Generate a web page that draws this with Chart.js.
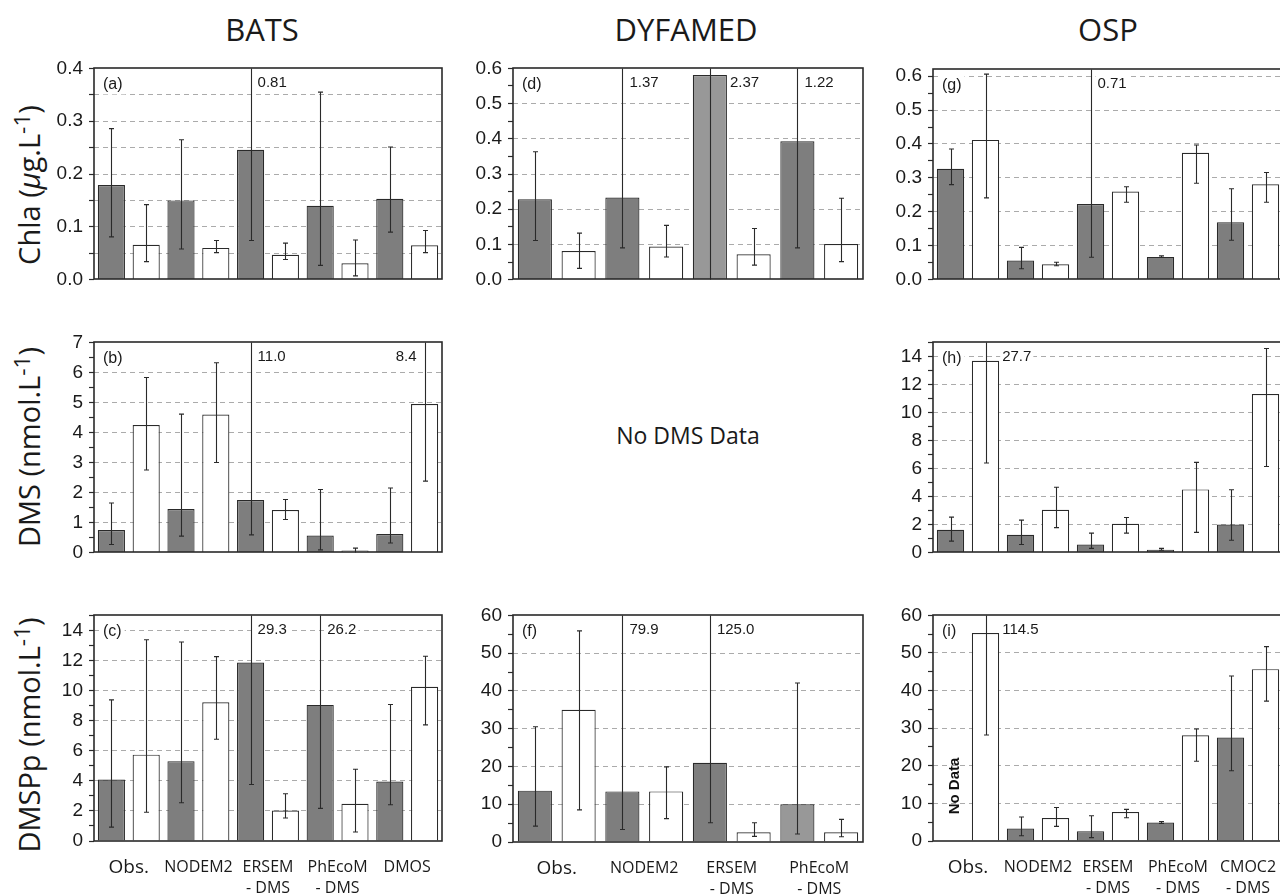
<!DOCTYPE html>
<html>
<head>
<meta charset="utf-8">
<script src="https://cdn.jsdelivr.net/npm/chart.js@4.4.0/dist/chart.umd.min.js"></script>
<style>
    html, body { margin: 0; padding: 0; background: #fff; }
    body { width: 1280px; height: 894px; overflow: hidden; position: relative; font-family: "Open Sans", sans-serif; color: #1a1a1a; }
    .panel { position: absolute; }
    .col-title { position: absolute; top: 8px; font-size: 31px; line-height: 42px; white-space: nowrap; transform: translateX(-50%); }
    .y-title { position: absolute; font-size: 29px; line-height: 34px; white-space: nowrap; transform: translate(-50%, -50%) rotate(-90deg); }
    .y-title sup { font-size: 78%; vertical-align: 0.45em; line-height: 0; }
    .no-dms { position: absolute; left: 688px; top: 435px; font-size: 23px; white-space: nowrap; transform: translate(-50%, -50%); }
</style>
</head>
<body>
<div class="col-title" style="left:262px">BATS</div>
<div class="col-title" style="left:686px">DYFAMED</div>
<div class="col-title" style="left:1108px">OSP</div>
<div class="y-title" style="left:29px; top:185px">Chla (<i>&mu;</i>g.L<sup>-1</sup>)</div>
<div class="y-title" style="left:29px; top:447px">DMS (nmol.L<sup>-1</sup>)</div>
<div class="y-title" style="left:29px; top:735px">DMSPp (nmol.L<sup>-1</sup>)</div>
<div class="no-dms">No DMS Data</div>

<script>
// categories (x axis)
const groupsBats = ['Obs.', 'NODEM2', ['ERSEM', '- DMS'], ['PhEcoM', '- DMS'], 'DMOS'];
const groupsDyfamed = ['Obs.', 'NODEM2', ['ERSEM', '- DMS'], ['PhEcoM', '- DMS']];
const groupsOsp = ['Obs.', 'NODEM2', ['ERSEM', '- DMS'], ['PhEcoM', '- DMS'], ['CMOC2', '- DMS']];

// (a) BATS Chla
const batsChlaGrey    = [0.179, 0.150, 0.246, 0.140, 0.153];
const batsChlaGreyLo  = [0.081, 0.058, 0.074, 0.027, 0.090];
const batsChlaGreyHi  = [0.286, 0.265, 0.81, 0.355, 0.251];
const batsChlaWhite   = [0.066, 0.060, 0.047, 0.031, 0.065];
const batsChlaWhiteLo = [0.034, 0.051, 0.038, 0.007, 0.051];
const batsChlaWhiteHi = [0.142, 0.074, 0.069, 0.075, 0.093];

// (b) BATS DMS
const batsDmsGrey    = [0.75, 1.45, 1.75, 0.57, 0.62];
const batsDmsGreyLo  = [0.27, 0.55, 0.59, 0.09, 0.32];
const batsDmsGreyHi  = [1.65, 4.61, 11.0, 2.10, 2.15];
const batsDmsWhite   = [4.25, 4.60, 1.42, 0.07, 4.95];
const batsDmsWhiteLo = [2.75, 3.00, 1.10, 0.00, 2.38];
const batsDmsWhiteHi = [5.83, 6.32, 1.77, 0.15, 8.4];

// (c) BATS DMSPp
const batsDmspGrey    = [4.09, 5.31, 11.87, 9.05, 3.96];
const batsDmspGreyLo  = [0.92, 2.54, 3.76, 2.17, 2.41];
const batsDmspGreyHi  = [9.38, 13.23, 29.3, 26.2, 9.08];
const batsDmspWhite   = [5.74, 9.23, 2.02, 2.47, 10.26];
const batsDmspWhiteLo = [1.91, 6.77, 1.53, 0.60, 7.72];
const batsDmspWhiteHi = [13.38, 12.26, 3.14, 4.77, 12.28];

// (d) DYFAMED Chla
const dyfChlaGrey    = [0.228, 0.233, 0.581, 0.393];
const dyfChlaGreyLo  = [0.111, 0.090, 0.0, 0.090];
const dyfChlaGreyHi  = [0.363, 1.37, 2.37, 1.22];
const dyfChlaWhite   = [0.081, 0.094, 0.072, 0.101];
const dyfChlaWhiteLo = [0.032, 0.064, 0.041, 0.051];
const dyfChlaWhiteHi = [0.132, 0.154, 0.145, 0.231];

// (f) DYFAMED DMSPp
const dyfDmspGrey    = [13.6, 13.4, 21.0, 10.0];
const dyfDmspGreyLo  = [4.2, 3.3, 5.1, 2.1];
const dyfDmspGreyHi  = [30.5, 79.9, 125.0, 42.1];
const dyfDmspWhite   = [35.0, 13.4, 2.6, 2.6];
const dyfDmspWhiteLo = [8.5, 6.2, 1.5, 1.4];
const dyfDmspWhiteHi = [55.9, 19.9, 5.1, 6.0];

// (g) OSP Chla
const ospChlaGrey    = [0.327, 0.056, 0.223, 0.067, 0.169];
const ospChlaGreyLo  = [0.280, 0.032, 0.066, 0.065, 0.116];
const ospChlaGreyHi  = [0.385, 0.095, 0.71, 0.070, 0.268];
const ospChlaWhite   = [0.412, 0.045, 0.260, 0.374, 0.281];
const ospChlaWhiteLo = [0.241, 0.041, 0.228, 0.284, 0.228];
const ospChlaWhiteHi = [0.606, 0.051, 0.274, 0.397, 0.316];

// (h) OSP DMS
const ospDmsGrey    = [1.63, 1.27, 0.58, 0.21, 2.00];
const ospDmsGreyLo  = [0.82, 0.58, 0.30, 0.17, 0.88];
const ospDmsGreyHi  = [2.53, 2.32, 1.39, 0.30, 4.48];
const ospDmsWhite   = [13.69, 3.05, 2.06, 4.51, 11.31];
const ospDmsWhiteLo = [6.39, 1.78, 1.39, 1.44, 6.14];
const ospDmsWhiteHi = [27.7, 4.66, 2.51, 6.44, 14.57];

// (i) OSP DMSPp (no observed grey value)
const ospDmspGrey    = [null, 3.3, 2.6, 4.9, 27.5];
const ospDmspGreyLo  = [null, 1.4, 0.9, 4.7, 18.7];
const ospDmspGreyHi  = [null, 6.4, 6.7, 5.2, 43.9];
const ospDmspWhite   = [55.3, 6.1, 7.7, 28.1, 45.7];
const ospDmspWhiteLo = [28.2, 3.9, 6.2, 21.2, 37.2];
const ospDmspWhiteHi = [114.5, 8.9, 8.4, 29.8, 51.7];

// panel layout: plot area position in the page + axis settings
const panels = [
    { tag: '(a)', left: 94,  top: 61,  w: 348, h: 234, groups: groupsBats, max: 0.4, minor: 0.05, major: 0.1, grid: 0.05, dec: 1, overDec: 2,
      grey: batsChlaGrey, greyLo: batsChlaGreyLo, greyHi: batsChlaGreyHi, white: batsChlaWhite, whiteLo: batsChlaWhiteLo, whiteHi: batsChlaWhiteHi },
    { tag: '(b)', left: 94,  top: 335, w: 348, h: 233, groups: groupsBats, max: 7, minor: 0.5, major: 1, grid: 1, dec: 0, overDec: 1,
      grey: batsDmsGrey, greyLo: batsDmsGreyLo, greyHi: batsDmsGreyHi, white: batsDmsWhite, whiteLo: batsDmsWhiteLo, whiteHi: batsDmsWhiteHi },
    { tag: '(c)', left: 94,  top: 608, w: 348, h: 233, groups: groupsBats, max: 15, minor: 1, major: 2, grid: 2, dec: 0, overDec: 1, xLabels: true,
      grey: batsDmspGrey, greyLo: batsDmspGreyLo, greyHi: batsDmspGreyHi, white: batsDmspWhite, whiteLo: batsDmspWhiteLo, whiteHi: batsDmspWhiteHi },
    { tag: '(d)', left: 513, top: 61,  w: 350, h: 234, groups: groupsDyfamed, max: 0.6, minor: 0.05, major: 0.1, grid: 0.1, dec: 1, overDec: 2, lightIdx: 2,
      grey: dyfChlaGrey, greyLo: dyfChlaGreyLo, greyHi: dyfChlaGreyHi, white: dyfChlaWhite, whiteLo: dyfChlaWhiteLo, whiteHi: dyfChlaWhiteHi },
    { tag: '(f)', left: 513, top: 608, w: 350, h: 234, groups: groupsDyfamed, max: 60, minor: 5, major: 10, grid: 10, dec: 0, overDec: 1, xLabels: true, lightIdx: 3,
      grey: dyfDmspGrey, greyLo: dyfDmspGreyLo, greyHi: dyfDmspGreyHi, white: dyfDmspWhite, whiteLo: dyfDmspWhiteLo, whiteHi: dyfDmspWhiteHi },
    { tag: '(g)', left: 933, top: 62,  w: 350, h: 233, groups: groupsOsp, max: 0.62, minor: 0.05, major: 0.1, grid: 0.1, dec: 1, overDec: 2,
      grey: ospChlaGrey, greyLo: ospChlaGreyLo, greyHi: ospChlaGreyHi, white: ospChlaWhite, whiteLo: ospChlaWhiteLo, whiteHi: ospChlaWhiteHi },
    { tag: '(h)', left: 933, top: 335, w: 350, h: 233, groups: groupsOsp, max: 15, minor: 1, major: 2, grid: 2, dec: 0, overDec: 1,
      grey: ospDmsGrey, greyLo: ospDmsGreyLo, greyHi: ospDmsGreyHi, white: ospDmsWhite, whiteLo: ospDmsWhiteLo, whiteHi: ospDmsWhiteHi },
    { tag: '(i)', left: 933, top: 608, w: 350, h: 233, groups: groupsOsp, max: 60, minor: 5, major: 10, grid: 10, dec: 0, overDec: 1, xLabels: true, noData: true,
      grey: ospDmspGrey, greyLo: ospDmspGreyLo, greyHi: ospDmspGreyHi, white: ospDmspWhite, whiteLo: ospDmspWhiteLo, whiteHi: ospDmspWhiteHi }
];

const INK = '#2a2a2a';

function isMult(v, step) {
    return Math.abs(v / step - Math.round(v / step)) < 1e-6;
}

// error bars, clipped values, panel tag and frame
function decor(p) {
    return {
        id: 'decor',
        afterDatasetsDraw(chart) {
            const { ctx, chartArea: a, scales: { y } } = chart;
            ctx.save();
            const series = [[p.grey, p.greyLo, p.greyHi], [p.white, p.whiteLo, p.whiteHi]];
            series.forEach((s, di) => {
                const meta = chart.getDatasetMeta(di);
                s[0].forEach((v, i) => {
                    const el = meta.data[i];
                    if (v == null) {
                        if (p.noData && el) {
                            ctx.save();
                            ctx.translate(el.x + 4, a.bottom - 55);
                            ctx.rotate(-Math.PI / 2);
                            ctx.font = 'bold 15px "Liberation Sans", Arial, sans-serif';
                            ctx.fillStyle = '#111';
                            ctx.textAlign = 'center';
                            ctx.textBaseline = 'middle';
                            ctx.fillText('No Data', 0, 0);
                            ctx.restore();
                        }
                        return;
                    }
                    const x = Math.round(el.x) + 0.5;
                    const hi = s[2][i], lo = s[1][i];
                    const yHi = Math.max(y.getPixelForValue(hi), a.top);
                    const yLo = Math.min(y.getPixelForValue(lo), a.bottom);
                    ctx.strokeStyle = INK;
                    ctx.lineWidth = 1.1;
                    ctx.beginPath();
                    ctx.moveTo(x, yHi);
                    ctx.lineTo(x, yLo);
                    if (hi <= p.max) { ctx.moveTo(x - 2.5, yHi); ctx.lineTo(x + 2.5, yHi); }
                    if (lo > 0) { ctx.moveTo(x - 2.5, yLo); ctx.lineTo(x + 2.5, yLo); }
                    ctx.stroke();
                    if (hi > p.max) {
                        const txt = hi.toFixed(p.overDec);
                        ctx.font = '15px "Liberation Sans", Arial, sans-serif';
                        const tw = ctx.measureText(txt).width;
                        let x0 = el.x + 7;
                        if (y.getPixelForValue(v) < a.top + 24) x0 = el.x + el.width / 2 + 3;
                        if (x0 + tw > a.right - 4) x0 = el.x - 8 - tw;
                        const yc = a.top + 14;
                        ctx.fillStyle = '#fff';
                        ctx.fillRect(x0 - 2, yc - 9, tw + 4, 18);
                        ctx.fillStyle = '#1a1a1a';
                        ctx.textAlign = 'left';
                        ctx.textBaseline = 'middle';
                        ctx.fillText(txt, x0, yc);
                    }
                });
            });
            // panel tag
            ctx.font = '16px "Liberation Sans", Arial, sans-serif';
            const tw = ctx.measureText(p.tag).width;
            ctx.fillStyle = '#fff';
            ctx.fillRect(a.left + 6, a.top + 6, tw + 6, 20);
            ctx.fillStyle = '#1a1a1a';
            ctx.textAlign = 'left';
            ctx.textBaseline = 'middle';
            ctx.fillText(p.tag, a.left + 9, a.top + 16);
            // frame
            ctx.strokeStyle = INK;
            ctx.lineWidth = 1.6;
            ctx.strokeRect(Math.round(a.left), Math.round(a.top), Math.round(a.width), Math.round(a.height));
            ctx.restore();
        }
    };
}

function makePanel(p) {
    const axisH = p.xLabels ? 53 : 0;
    const cw = 60 + p.w + 10;
    const ch = 10 + p.h + axisH + 2;
    const cv = document.createElement('canvas');
    cv.className = 'panel';
    cv.width = cw;
    cv.height = ch;
    cv.style.left = (p.left - 60) + 'px';
    cv.style.top = (p.top - 10) + 'px';
    cv.style.width = cw + 'px';
    cv.style.height = ch + 'px';
    document.body.appendChild(cv);

    const nTicks = Math.floor(p.max / p.minor + 1e-9);
    const tickVals = [];
    for (let k = 0; k <= nTicks; k++) tickVals.push(+(k * p.minor).toFixed(4));

    new Chart(cv, {
        type: 'bar',
        data: {
            labels: p.groups,
            datasets: [{
                data: p.grey,
                backgroundColor: (c) => c.dataIndex === p.lightIdx ? '#989898' : '#7e7e7e',
                borderColor: INK,
                borderWidth: 1.2
            }, {
                data: p.white,
                backgroundColor: '#ffffff',
                borderColor: INK,
                borderWidth: 1.2
            }]
        },
        options: {
            responsive: false,
            animation: false,
            events: [],
            categoryPercentage: 1,
            barPercentage: 0.78,
            layout: { padding: { top: 10, right: 10, bottom: 2, left: 0 } },
            plugins: { legend: { display: false }, tooltip: { enabled: false } },
            scales: {
                x: {
                    display: !!p.xLabels,
                    grid: { display: false },
                    border: { display: false },
                    ticks: {
                        autoSkip: false,
                        maxRotation: 0,
                        padding: 8,
                        color: '#1a1a1a',
                        font: (c) => ({ family: '"Open Sans", sans-serif', size: c.index === 0 ? 19 : 16, lineHeight: '21px' })
                    },
                    afterFit: (s) => { s.height = axisH; }
                },
                y: {
                    min: 0,
                    max: p.max,
                    afterBuildTicks: (s) => { s.ticks = tickVals.map(v => ({ value: v })); },
                    afterFit: (s) => { s.width = 60; },
                    border: { display: false, dash: [5, 4] },
                    grid: {
                        lineWidth: 1,
                        color: (c) => {
                            const v = c.tick ? c.tick.value : 0;
                            return (v > 1e-9 && v < p.max - 1e-9 && isMult(v, p.grid)) ? '#ababab' : 'rgba(0,0,0,0)';
                        },
                        drawTicks: true,
                        tickLength: 5,
                        tickWidth: 1.2,
                        tickColor: INK
                    },
                    ticks: {
                        autoSkip: false,
                        padding: 6,
                        color: '#1a1a1a',
                        font: { family: '"Liberation Sans", Arial, sans-serif', size: 19 },
                        callback: (v) => isMult(v, p.major) ? Number(v).toFixed(p.dec) : ''
                    }
                }
            }
        },
        plugins: [decor(p)]
    });
}

panels.forEach(makePanel);
</script>
</body>
</html>
